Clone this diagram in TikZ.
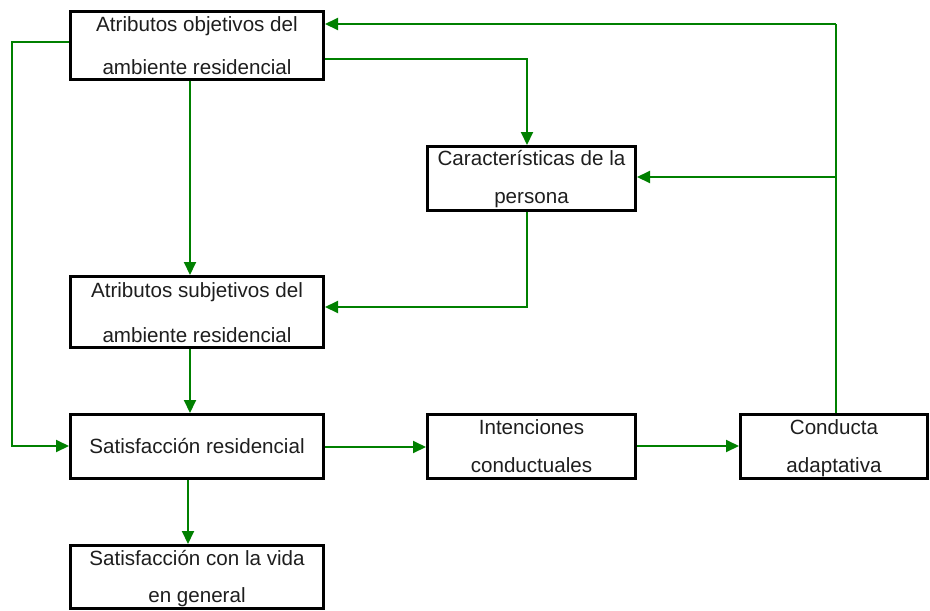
\documentclass[tikz,border=0pt]{standalone}
\usepackage{fontspec}
\setmainfont{Liberation Sans}
\usetikzlibrary{arrows.meta}
\definecolor{lnkgreen}{RGB}{0,128,0}
\definecolor{txtgray}{RGB}{30,30,30}
\begin{document}
\begin{tikzpicture}[x=1pt,y=-1pt,
  box/.style={draw=black, line width=3pt, rectangle, inner sep=0pt},
  lbl/.style={anchor=base, inner sep=0pt, text=txtgray, font=\fontsize{20.6}{24}\selectfont},
  link/.style={draw=lnkgreen, line width=2pt, -{Triangle[length=13pt,width=12pt]}},
  plain/.style={draw=lnkgreen, line width=2pt}]
\useasboundingbox (0,0) rectangle (930,611);
% boxes
\node[box, minimum width=253pt, minimum height=67.5pt] (B1) at (197,45.25) {};
\node[box, minimum width=208pt, minimum height=64pt] (B2) at (531.5,178.5) {};
\node[box, minimum width=253pt, minimum height=71pt] (B3) at (197,312) {};
\node[box, minimum width=253pt, minimum height=64pt] (B4) at (197,446.5) {};
\node[box, minimum width=208pt, minimum height=64pt] (B5) at (531.5,446.5) {};
\node[box, minimum width=187pt, minimum height=64pt] (B6) at (834,446.5) {};
\node[box, minimum width=253pt, minimum height=63pt] (B7) at (197,577) {};
% labels
\node[lbl] (t1a) at (197,31) {Atributos objetivos del};
\node[lbl] (t1b) at (197,74) {ambiente residencial};
\node[lbl] (t2a) at (531.5,165) {Características de la};
\node[lbl] (t2b) at (531.5,203) {persona};
\node[lbl] (t3a) at (197,297) {Atributos subjetivos del};
\node[lbl] (t3b) at (197,342) {ambiente residencial};
\node[lbl] (t4) at (197,453) {Satisfacción residencial};
\node[lbl] (t5a) at (531.5,434) {Intenciones};
\node[lbl] (t5b) at (531.5,472) {conductuales};
\node[lbl] (t6a) at (834,434) {Conducta};
\node[lbl] (t6b) at (834,472) {adaptativa};
\node[lbl] (t7a) at (197,565) {Satisfacción con la vida};
\node[lbl] (t7b) at (197,602) {en general};
% bend coordinates
\coordinate (c1) at (836,24);
\coordinate (c2) at (836,177);
\coordinate (c3) at (527,59);
\coordinate (c4) at (527,307);
\coordinate (c5) at (190,0);
\coordinate (c6) at (12,42);
\coordinate (c7) at (12,446);
\coordinate (c8) at (0,447);
\coordinate (c9) at (0,446);
\coordinate (c10) at (188,0);
% connectors
\draw[plain] (c1 |- B6.north) -- (c1);
\draw[link] (c1) -- (c1 -| B1.east);
\draw[link] (c2) -- (c2 -| B2.east);
\draw[link] (c3 -| B1.east) -- (c3) -- (c3 |- B2.north);
\draw[link] (c4 |- B2.south) -- (c4) -- (c4 -| B3.east);
\draw[link] (c5 |- B1.south) -- (c5 |- B3.north);
\draw[link] (c5 |- B3.south) -- (c5 |- B4.north);
\draw[link] (c6 -| B1.west) -- (c6) -- (c7) -- (c7 -| B4.west);
\draw[link] (c8 -| B4.east) -- (c8 -| B5.west);
\draw[link] (c9 -| B5.east) -- (c9 -| B6.west);
\draw[link] (c10 |- B4.south) -- (c10 |- B7.north);
\end{tikzpicture}
\end{document}
